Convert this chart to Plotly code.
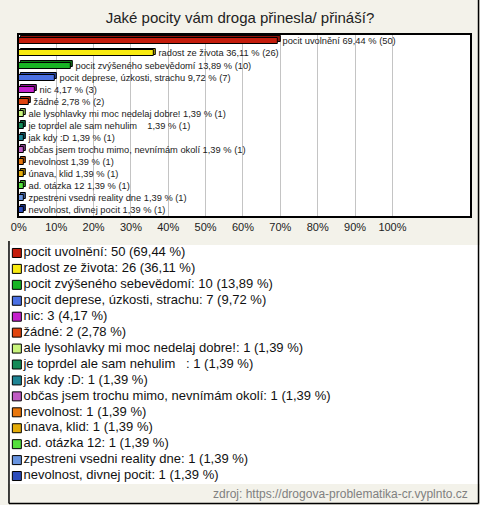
import plotly.graph_objects as go

W, H = 480, 505

categories = [
    "pocit uvolnění", "radost ze života", "pocit zvýšeného sebevědomí",
    "pocit deprese, úzkosti, strachu", "nic", "žádné",
    "ale lysohlavky mi moc nedelaj dobre!", "je toprdel ale sam nehulim\u00a0\u00a0\u00a0",
    "jak kdy :D", "občas jsem trochu mimo, nevnímám okolí", "nevolnost",
    "únava, klid", "ad. otázka 12", "zpestreni vsedni reality dne",
    "nevolnost, divnej pocit",
]
counts = [50, 26, 10, 7, 3, 2, 1, 1, 1, 1, 1, 1, 1, 1, 1]
percents = [69.44, 36.11, 13.89, 9.72, 4.17, 2.78, 1.39, 1.39, 1.39, 1.39, 1.39, 1.39, 1.39, 1.39, 1.39]
colors = [
    "#c41c0c", "#f8ea10", "#18b424", "#4a70e4", "#c420cc", "#e0440e",
    "#c8f47c", "#148a58", "#1e8494", "#c05cc4", "#e8760c",
    "#e4ac08", "#54e03c", "#6894e0", "#2c4cbc",
]
dark_colors = [
    "#8a1208", "#b8aa08", "#0e7a16", "#2e4ca8", "#8a1490", "#a02c08",
    "#8cb852", "#0c5c3a", "#125a66", "#8a3c8e", "#a8520a",
    "#a07a06", "#38a028", "#4668a8", "#1c3284",
]
tick_vals = [0, 10, 20, 30, 40, 50, 60, 70, 80, 90, 100]
tick_text = ["0%", "10%", "20%", "30%", "40%", "50%", "60%", "70%", "80%", "90%", "100%"]

title_text = "Jaké pocity vám droga přinesla/ přináší?"
source_text = "zdroj: https://drogova-problematika-cr.vyplnto.cz"

def fmt(v):
    return f"{v:.2f}".replace(".", ",")

idx = list(range(len(categories)))
bar_labels = [f"\u00a0\u00a0{c} {fmt(p)} % ({n})" for c, p, n in zip(categories, percents, counts)]
legend_labels = [f"{c}: {n} ({fmt(p)} %)" for c, p, n in zip(categories, percents, counts)]

def py(px):
    return 1 - px / H

fig = go.Figure()

# depth (back face) of 3D bars
fig.add_trace(go.Bar(
    y=idx, x=percents, base=0.55, orientation="h",
    width=0.5, offset=-0.38,
    marker=dict(color=dark_colors, line=dict(color="black", width=1)),
    hoverinfo="skip", showlegend=False,
))
# front face
fig.add_trace(go.Bar(
    y=idx, x=percents, orientation="h",
    width=0.5, offset=-0.22,
    marker=dict(color=colors, line=dict(color="black", width=1)),
    text=bar_labels, textposition="outside", constraintext="none",
    cliponaxis=False,
    textfont=dict(family="Liberation Sans, Arial", size=9.3, color="#222222"),
    hoverinfo="skip", showlegend=False,
))

# legend area
fig.add_trace(go.Scatter(
    x=[9] * len(idx), y=idx, xaxis="x2", yaxis="y2",
    mode="markers+text",
    marker=dict(symbol="square", size=9, color=colors, line=dict(color="black", width=1)),
    text=legend_labels, textposition="middle right",
    textfont=dict(family="Liberation Sans, Arial", size=13, color="#111111"),
    hoverinfo="skip", showlegend=False, cliponaxis=False,
))

fig.update_layout(
    width=W, height=H,
    margin=dict(l=0, r=0, t=0, b=0),
    paper_bgcolor="#f3f2ea",
    plot_bgcolor="white",
    barmode="overlay",
    bargap=0,
    showlegend=False,
    title=dict(text=title_text, x=0.5, xanchor="center", y=py(18), yanchor="middle",
               font=dict(family="Liberation Sans, Arial", size=15, color="#222222")),
    xaxis=dict(
        domain=[11 / W, 470 / W], range=[0, 120.8],
        tickvals=tick_vals, ticktext=tick_text,
        showgrid=True, gridcolor="#c4c4c4", gridwidth=1,
        zeroline=False, showline=True, linecolor="black", linewidth=1.5, mirror=True,
        ticks="", ticklen=0,
        tickfont=dict(family="Liberation Sans, Arial", size=11, color="#222222"),
        fixedrange=True,
    ),
    yaxis=dict(
        domain=[py(216), py(35)], range=[14.5, -0.5],
        showticklabels=False, showgrid=False, zeroline=False,
        showline=True, linecolor="black", linewidth=1.5, mirror=True, ticks="",
        fixedrange=True,
    ),
    xaxis2=dict(domain=[0, 1], range=[0, W], visible=False, anchor="y2", fixedrange=True),
    yaxis2=dict(domain=[py(484), py(245)], range=[14.5, -0.5], visible=False, anchor="x2", fixedrange=True),
    annotations=[
        dict(text=source_text, xref="paper", yref="paper", x=470 / W, y=py(494),
             xanchor="right", yanchor="middle", showarrow=False,
             font=dict(family="Liberation Sans, Arial", size=12, color="#808080")),
    ],
    shapes=[
        dict(type="line", xref="paper", yref="paper", x0=478.5 / W, x1=478.5 / W, y0=py(0), y1=py(503.5),
             line=dict(color="black", width=1.5)),
        dict(type="line", xref="paper", yref="paper", x0=1 / W, x1=478.5 / W, y0=py(503.5), y1=py(503.5),
             line=dict(color="black", width=1.5)),
        dict(type="line", xref="paper", yref="paper", x0=1 / W, x1=1 / W, y0=py(241), y1=py(503.5),
             line=dict(color="black", width=1.5)),
    ],
)

fig.write_html(
    "out.html",
    config={"displayModeBar": False},
    post_script="document.body.style.margin='0';document.body.style.background='#f3f2ea';",
)
